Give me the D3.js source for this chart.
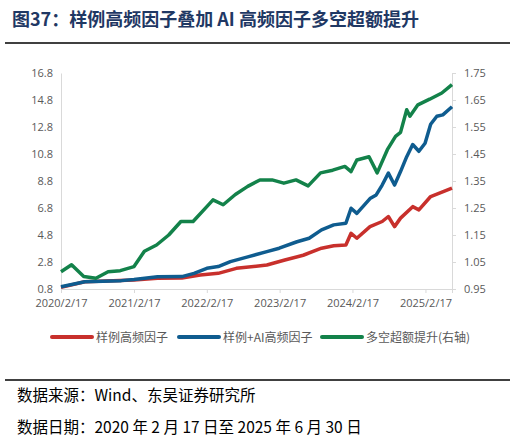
<!DOCTYPE html>
<html><head><meta charset="utf-8">
<script src="https://cdn.jsdelivr.net/npm/d3@7"></script>
<style>body{margin:0;background:#fff}</style>
</head><body>
<div id="chart"></div>
<script>
// red: 样例高频因子 (left axis)
const redDates = ["2020-02-17","2020-06-15","2021-02-17","2021-06-15","2021-10-15","2022-01-15","2022-04-15","2022-07-15","2022-12-15","2023-03-15","2023-06-15","2023-09-15","2023-11-15","2024-01-15","2024-02-10","2024-03-10","2024-05-15","2024-07-15","2024-08-15","2024-09-15","2024-10-15","2024-12-15","2025-01-15","2025-03-15","2025-06-30"];
const redValues = [0.92,1.34,1.47,1.6,1.62,1.84,1.96,2.33,2.58,2.95,3.3,3.82,4.0,4.06,4.93,4.56,5.42,5.8,6.17,5.42,6.05,6.9,6.66,7.65,8.27];
// blue: 样例+AI高频因子 (left axis)
const blueDates = ["2020-02-17","2020-06-15","2020-12-15","2021-02-17","2021-06-15","2021-10-15","2021-12-15","2022-02-17","2022-04-15","2022-06-15","2022-09-15","2022-12-15","2023-02-15","2023-05-15","2023-07-15","2023-09-15","2023-11-15","2024-01-15","2024-02-10","2024-03-10","2024-05-15","2024-06-15","2024-07-15","2024-08-15","2024-09-15","2024-10-15","2024-11-15","2024-12-15","2025-01-15","2025-02-15","2025-03-15","2025-04-15","2025-05-15","2025-06-30"];
const blueValues = [0.97,1.34,1.42,1.5,1.7,1.72,1.96,2.33,2.46,2.83,3.2,3.57,3.82,4.3,4.56,5.18,5.55,5.67,6.78,6.4,7.5,7.77,8.5,9.38,8.5,9.5,10.6,11.5,11.0,11.6,13.0,13.6,13.7,14.3];
// green: 多空超额提升 (right axis)
const greenDates = ["2020-02-17","2020-04-10","2020-06-10","2020-08-10","2020-10-10","2020-12-10","2021-02-17","2021-04-10","2021-06-10","2021-08-10","2021-10-10","2021-12-10","2022-02-17","2022-03-20","2022-05-10","2022-07-10","2022-09-10","2022-11-10","2023-01-10","2023-03-10","2023-05-10","2023-07-10","2023-09-10","2023-11-10","2024-01-10","2024-02-10","2024-03-10","2024-05-10","2024-06-20","2024-08-10","2024-09-20","2024-10-15","2024-11-15","2024-12-01","2025-01-10","2025-03-10","2025-05-10","2025-06-30"];
const greenValues = [1.014,1.04,0.996,0.99,1.014,1.018,1.033,1.09,1.113,1.15,1.2,1.2,1.255,1.28,1.262,1.3,1.33,1.354,1.354,1.342,1.354,1.332,1.38,1.39,1.404,1.385,1.428,1.44,1.38,1.466,1.515,1.53,1.614,1.59,1.632,1.653,1.676,1.707];

const leftTicks = [0.8,2.8,4.8,6.8,8.8,10.8,12.8,14.8,16.8];
const rightTicks = [0.95,1.05,1.15,1.25,1.35,1.45,1.55,1.65,1.75];
const xTickLabels = ["2020/2/17","2021/2/17","2022/2/17","2023/2/17","2024/2/17","2025/2/17"];
const seriesNames = ["样例高频因子","样例+AI高频因子","多空超额提升(右轴)"];
const colors = ["#c8302c","#0f5c8f","#13824a"];

const W = 515, H = 443;
const svg = d3.select("#chart").append("svg").attr("width", W).attr("height", H);
const parse = d3.timeParse("%Y-%m-%d");
const parseTick = d3.timeParse("%Y/%m/%d");

svg.append("text").attr("x", 12).attr("y", 26)
  .attr("font-family", "Noto Sans CJK SC").attr("font-weight", "bold")
  .attr("font-size", 18).attr("fill", "#1f3864")
  .text("图37：样例高频因子叠加 AI 高频因子多空超额提升");
svg.append("line").attr("x1", 5).attr("x2", 510).attr("y1", 43).attr("y2", 43)
  .attr("stroke", "#000").attr("stroke-width", 1.5);

const x = d3.scaleTime().domain([parse("2020-02-17"), parse("2025-06-30")]).range([61, 452]);
const yL = d3.scaleLinear().domain([0.8, 16.8]).range([289, 73]);
const yR = d3.scaleLinear().domain([0.95, 1.75]).range([289, 73]);

const axisStyle = g => {
  g.select(".domain").attr("stroke", "#d9d9d9");
  g.selectAll(".tick line").attr("stroke", "#d9d9d9");
  g.selectAll("text").attr("fill", "#595959").attr("font-family", "Open Sans").attr("font-size", 11);
};

svg.append("g").attr("transform", "translate(61,0)")
  .call(d3.axisLeft(yL).tickValues(leftTicks).tickFormat(d3.format(".1f")).tickSize(0).tickPadding(8))
  .call(axisStyle);
svg.append("g").attr("transform", "translate(452,0)")
  .call(d3.axisRight(yR).tickValues(rightTicks).tickFormat(d3.format(".2f")).tickSize(4).tickPadding(8))
  .call(axisStyle);
svg.append("g").attr("transform", "translate(0,289)")
  .call(d3.axisBottom(x).tickValues(xTickLabels.map(parseTick)).tickFormat(d3.timeFormat("%Y/%-m/%-d")).tickSize(4).tickPadding(6))
  .call(axisStyle);

const series = [
  {dates: redDates, values: redValues, y: yL},
  {dates: blueDates, values: blueValues, y: yL},
  {dates: greenDates, values: greenValues, y: yR}
];
series.forEach((s, i) => {
  const pts = s.dates.map((d, j) => [parse(d), s.values[j]]);
  svg.append("path").datum(pts)
    .attr("fill", "none").attr("stroke", colors[i]).attr("stroke-width", 3.5)
    .attr("stroke-linejoin", "round")
    .attr("d", d3.line().x(d => x(d[0])).y(d => s.y(d[1])));
});

const legX = [52, 179, 322];
seriesNames.forEach((n, i) => {
  const g = svg.append("g").attr("transform", `translate(${legX[i]},337)`);
  g.append("line").attr("x1", 0).attr("x2", 40).attr("stroke", colors[i]).attr("stroke-width", 4).attr("stroke-linecap", "round");
  g.append("text").attr("x", 44).attr("y", 5).attr("font-family", "Noto Sans CJK SC")
    .attr("font-size", 12).attr("fill", "#595959").text(n);
});

svg.append("line").attr("x1", 5).attr("x2", 510).attr("y1", 380).attr("y2", 380)
  .attr("stroke", "#000").attr("stroke-width", 1.5);
const foot = ["数据来源：Wind、东吴证券研究所", "数据日期：2020 年 2 月 17 日至 2025 年 6 月 30 日"];
foot.forEach((t, i) => {
  svg.append("text").attr("x", 17).attr("y", 401 + i * 32)
    .attr("font-family", "Noto Sans CJK SC").attr("font-size", 15.5).attr("fill", "#000").text(t);
});
</script>
</body></html>
